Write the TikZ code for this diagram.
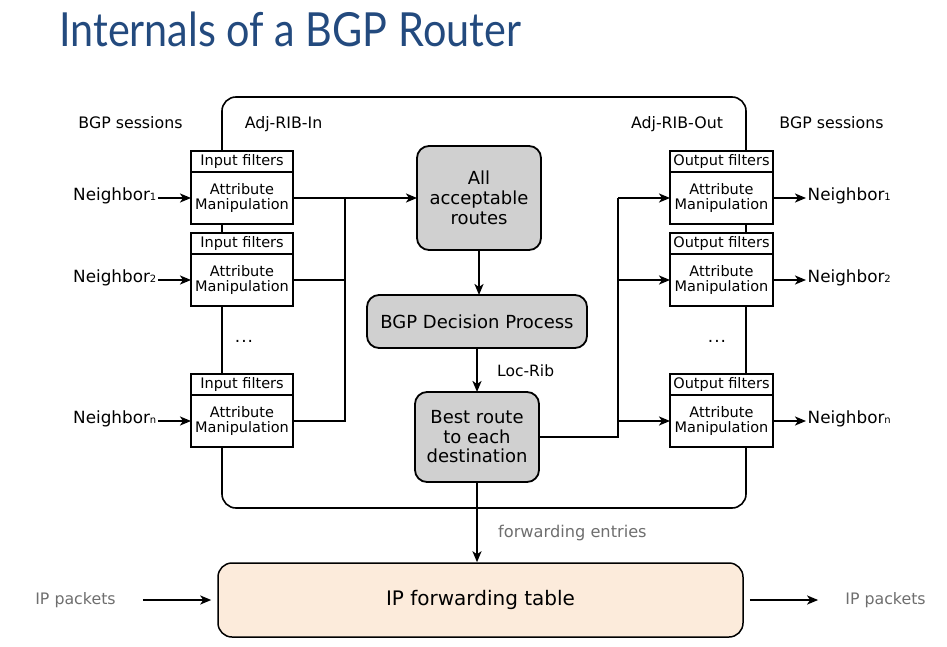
\documentclass[tikz,border=0pt]{standalone}
\usepackage{fontspec}
\setmainfont{DejaVu Sans}
\newfontfamily\titlefont[FakeStretch=0.88]{Lato}
\usetikzlibrary{arrows.meta,calc}
\definecolor{titleblue}{HTML}{234A7E}
\definecolor{boxgray}{HTML}{D0D0D0}
\definecolor{peach}{HTML}{FCEBDB}
\definecolor{labgray}{HTML}{6E6E6E}
\newcommand\fs[1]{\fontsize{#1}{#1}\selectfont}
\newcommand\nsub[1]{{\fontsize{10}{10}\selectfont #1}}
\begin{document}
\begin{tikzpicture}[x=1pt,y=-1pt,
  arr/.style={-{Stealth[length=11pt,width=9pt,inset=3pt]}, line width=2pt},
  wire/.style={line width=2pt},
  hdr/.style={draw, line width=1.5pt, fill=white, minimum width=102pt, minimum height=21pt, inner sep=0pt, outer sep=0pt, font=\fs{14.5}},
  bodyb/.style={draw, line width=1.5pt, fill=white, minimum width=102pt, minimum height=52pt, inner sep=0pt, outer sep=0pt, align=center, font=\fontsize{14.5}{15.5}\selectfont},
  proc/.style={draw, line width=1.8pt, fill=boxgray, rounded corners=12pt, align=center, inner sep=0pt, outer sep=0pt},
  lab/.style={font=\fs{15.8}, anchor=base, inner sep=0pt},
  nb/.style={font=\fs{16.8}, inner sep=1.5pt},
  glab/.style={font=\fs{15.8}, text=labgray, inner sep=0pt},
  dotsn/.style={font=\fs{17}, inner sep=0pt}
]
\useasboundingbox (0,0) rectangle (947,647);

\node[anchor=base west, inner sep=0pt, text=titleblue, font=\titlefont\fs{47}] (title) at (59,47) {Internals of a BGP Router};

\node[draw, line width=1.6pt, rounded corners=14pt, minimum width=524pt, minimum height=411pt, inner sep=0pt] (router) at (484,302.5) {};

\node[lab] (bgpl) at (130.5,129) {BGP sessions};
\node[lab] (ribin) at (283.5,129) {Adj-RIB-In};
\node[lab] (ribout) at (677,129) {Adj-RIB-Out};
\node[lab] (bgpr) at (831.5,129) {BGP sessions};

\foreach \i/\t in {1/151,2/233,n/374}{
  \node[hdr] (hl\i) at (242,\t+10.5) {Input filters};
  \node[bodyb, anchor=north] (bl\i) at (hl\i.south) {Attribute\\Manipulation};
  \node[nb, anchor=mid east] (nl\i) at ($(bl\i.west)+(-33,0)$) {Neighbor\nsub{\i}};
  \draw[arr] (nl\i.mid east) -- (bl\i.west);
  \node[hdr, minimum width=103pt] (hr\i) at (721.5,\t+10.5) {Output filters};
  \node[bodyb, minimum width=103pt, anchor=north] (br\i) at (hr\i.south) {Attribute\\Manipulation};
  \node[nb, anchor=mid west] (nr\i) at ($(br\i.east)+(33,0)$) {Neighbor\nsub{\i}};
  \draw[arr] (br\i.east) -- (nr\i.mid west);
}

\node[dotsn] (dotsl) at (244,341) {.\kern1pt.\kern1pt.};
\node[dotsn] (dotsr) at (717,341) {.\kern1pt.\kern1pt.};

\node[proc, minimum width=124pt, minimum height=104pt, font=\fontsize{18}{20}\selectfont] (all) at (479,198) {All\\acceptable\\routes};
\node[proc, minimum width=220pt, minimum height=53pt, font=\fs{18}] (dec) at (477,321.5) {BGP Decision Process};
\node[proc, minimum width=124pt, minimum height=90pt, font=\fontsize{18}{19.5}\selectfont] (best) at (477,437) {Best route\\to each\\destination};

\draw[arr] (all.south) -- (all.south |- dec.north);
\draw[arr] (dec.south) -- (best.north);
\node[font=\fs{15.5}, anchor=west, inner sep=0pt] (locrib) at (497,371) {Loc-Rib};

\coordinate (lbus) at (345,198);
\draw[arr] (bl1.east) -- (all.west);
\draw[wire] (bl2.east) -- (bl2.east -| lbus);
\draw[wire] (bln.east) -| (lbus);

\coordinate (rbus) at (618,198);
\draw[wire] (best.east) -| (rbus);
\draw[arr] (rbus) -- (br1.west);
\draw[arr] (br2.west -| rbus) -- (br2.west);
\draw[arr] (brn.west -| rbus) -- (brn.west);

\node[draw, line width=1.5pt, rounded corners=14pt, fill=peach, minimum width=525pt, minimum height=74pt, font=\fs{20}] (fwd) at (480.5,600) {IP forwarding table};
\draw[arr] (best.south) -- (best.south |- fwd.north);
\node[glab, anchor=west, font=\fs{16.2}] (fe) at (498,533) {forwarding entries};
\node[glab] (ipl) at (75.5,600) {IP packets};
\node[glab] (ipr) at (885.5,600) {IP packets};
\draw[arr, shorten <=27pt, shorten >=6pt] (ipl.east) -- (fwd.west);
\draw[arr, shorten <=6pt, shorten >=27pt] (fwd.east) -- (ipr.west);
\end{tikzpicture}
\end{document}
